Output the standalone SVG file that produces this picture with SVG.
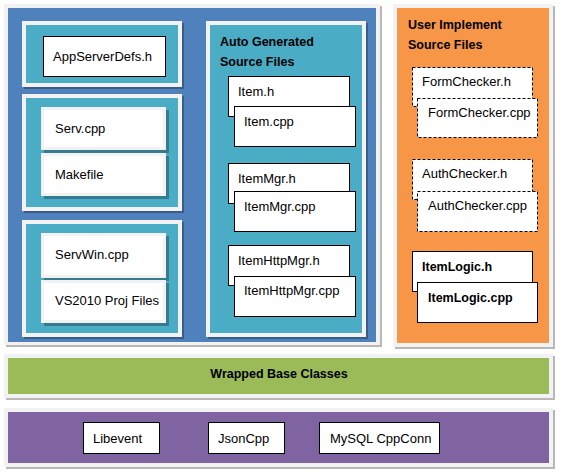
<svg xmlns="http://www.w3.org/2000/svg" width="561" height="476" viewBox="0 0 561 476">
<style>
text{font-family:"Liberation Sans",Arial,sans-serif;font-size:13px;fill:#000}
.b{font-weight:bold;font-size:12.5px}
.frame{fill:#f2f2f2}
.sh{fill:#000;fill-opacity:0.28}
.blue{fill:#4f81bd}
.teal{fill:#4bacc6}
.orange{fill:#f79646}
.green{fill:#9bbb59}
.purple{fill:#8064a2}
.wb{fill:#fff;stroke:#f2f2f2;stroke-width:3}
.file{fill:#fff;stroke:#000;stroke-width:1}
.dash{fill:#fff;stroke:#000;stroke-width:1;stroke-dasharray:3 2}
</style>
<rect width="561" height="476" fill="#fff"/>

<g id="server-layer">
<rect class="sh" x="6" y="6" width="376" height="341"/>
<rect class="frame" x="4" y="4" width="376" height="341"/>
<rect class="blue" x="8" y="8" width="368" height="334"/>
</g>

<g id="defs-group">
<rect class="sh" x="24" y="23" width="160" height="66"/>
<rect class="frame" x="22" y="21" width="160" height="66"/>
<rect class="teal" x="26" y="25" width="152" height="58"/>
<g id="appserverdefs"><rect class="file" x="43.5" y="36.5" width="122" height="40"/><text x="53" y="61">AppServerDefs.h</text></g>
</g>

<g id="linux-group">
<rect class="sh" x="24" y="96" width="160" height="117"/>
<rect class="frame" x="22" y="94" width="160" height="117"/>
<rect class="teal" x="26" y="98" width="152" height="109"/>
<g id="serv-cpp"><rect class="sh" x="44" y="110" width="125" height="43"/><rect class="wb" x="42.5" y="108.5" width="122" height="40"/><text x="55" y="133">Serv.cpp</text></g>
<g id="makefile"><rect class="sh" x="44" y="156" width="125" height="43"/><rect class="wb" x="42.5" y="154.5" width="122" height="40"/><text x="55" y="179">Makefile</text></g>
</g>

<g id="win-group">
<rect class="sh" x="24" y="222" width="160" height="117"/>
<rect class="frame" x="22" y="220" width="160" height="117"/>
<rect class="teal" x="26" y="224" width="152" height="109"/>
<g id="servwin-cpp"><rect class="sh" x="44" y="236" width="125" height="45"/><rect class="wb" x="42.5" y="234.5" width="122" height="42"/><text x="55" y="259">ServWin.cpp</text></g>
<g id="vs2010"><rect class="sh" x="44" y="283" width="125" height="43"/><rect class="wb" x="42.5" y="281.5" width="122" height="40"/><text x="55" y="305">VS2010 Proj Files</text></g>
</g>

<g id="auto-generated">
<rect class="sh" x="208" y="23" width="160" height="316"/>
<rect class="frame" x="206" y="21" width="160" height="316"/>
<rect class="teal" x="210" y="25" width="152" height="308"/>
<text class="b" x="220" y="46">Auto Generated</text>
<text class="b" x="220" y="66">Source Files</text>
<g id="item-h"><rect class="file" x="228.5" y="76.5" width="121" height="40"/><text x="238" y="96">Item.h</text></g>
<g id="item-cpp"><rect class="file" x="234.5" y="106.5" width="121" height="40"/><text x="244" y="126">Item.cpp</text></g>
<g id="itemmgr-h"><rect class="file" x="228.5" y="163.5" width="121" height="40"/><text x="238" y="183">ItemMgr.h</text></g>
<g id="itemmgr-cpp"><rect class="file" x="234.5" y="191.5" width="121" height="40"/><text x="244" y="211">ItemMgr.cpp</text></g>
<g id="itemhttpmgr-h"><rect class="file" x="228.5" y="245.5" width="121" height="40"/><text x="238" y="265">ItemHttpMgr.h</text></g>
<g id="itemhttpmgr-cpp"><rect class="file" x="234.5" y="276.5" width="121" height="40"/><text x="244" y="295">ItemHttpMgr.cpp</text></g>
</g>

<g id="user-implement">
<rect class="sh" x="395" y="6" width="160" height="343"/>
<rect class="frame" x="393" y="4" width="160" height="343"/>
<rect class="orange" x="397" y="8" width="152" height="335"/>
<text class="b" x="408" y="29">User Implement</text>
<text class="b" x="408" y="49">Source Files</text>
<g id="formchecker-h"><rect class="dash" x="412.5" y="67.5" width="120" height="39"/><text x="422" y="86">FormChecker.h</text></g>
<g id="formchecker-cpp"><rect class="dash" x="417.5" y="98.5" width="120" height="39"/><text x="428" y="117">FormChecker.cpp</text></g>
<g id="authchecker-h"><rect class="dash" x="412.5" y="159.5" width="120" height="40"/><text x="422" y="178">AuthChecker.h</text></g>
<g id="authchecker-cpp"><rect class="dash" x="417.5" y="191.5" width="120" height="40"/><text x="428" y="210">AuthChecker.cpp</text></g>
<g id="itemlogic-h"><rect class="file" x="412.5" y="251.5" width="120" height="40"/><text class="b" x="422" y="271">ItemLogic.h</text></g>
<g id="itemlogic-cpp"><rect class="file" x="417.5" y="282.5" width="120" height="40"/><text class="b" x="428" y="302">ItemLogic.cpp</text></g>
</g>

<g id="wrapped-base">
<rect class="sh" x="6" y="356" width="549" height="44"/>
<rect class="frame" x="4" y="354" width="549" height="44"/>
<rect class="green" x="8" y="358" width="541" height="36"/>
<text class="b" x="279" y="378" text-anchor="middle">Wrapped Base Classes</text>
</g>

<g id="libraries">
<rect class="sh" x="6" y="410" width="549" height="59"/>
<rect class="frame" x="4" y="408" width="549" height="59"/>
<rect class="purple" x="8" y="412" width="541" height="51"/>
<g id="libevent"><rect class="file" x="83.5" y="422.5" width="76" height="31"/><text x="93" y="443">Libevent</text></g>
<g id="jsoncpp"><rect class="file" x="208.5" y="422.5" width="76" height="31"/><text x="218" y="443">JsonCpp</text></g>
<g id="mysql"><rect class="file" x="319.5" y="422.5" width="120" height="31"/><text x="330" y="443">MySQL CppConn</text></g>
</g>

<g id="connectors"></g>
</svg>
